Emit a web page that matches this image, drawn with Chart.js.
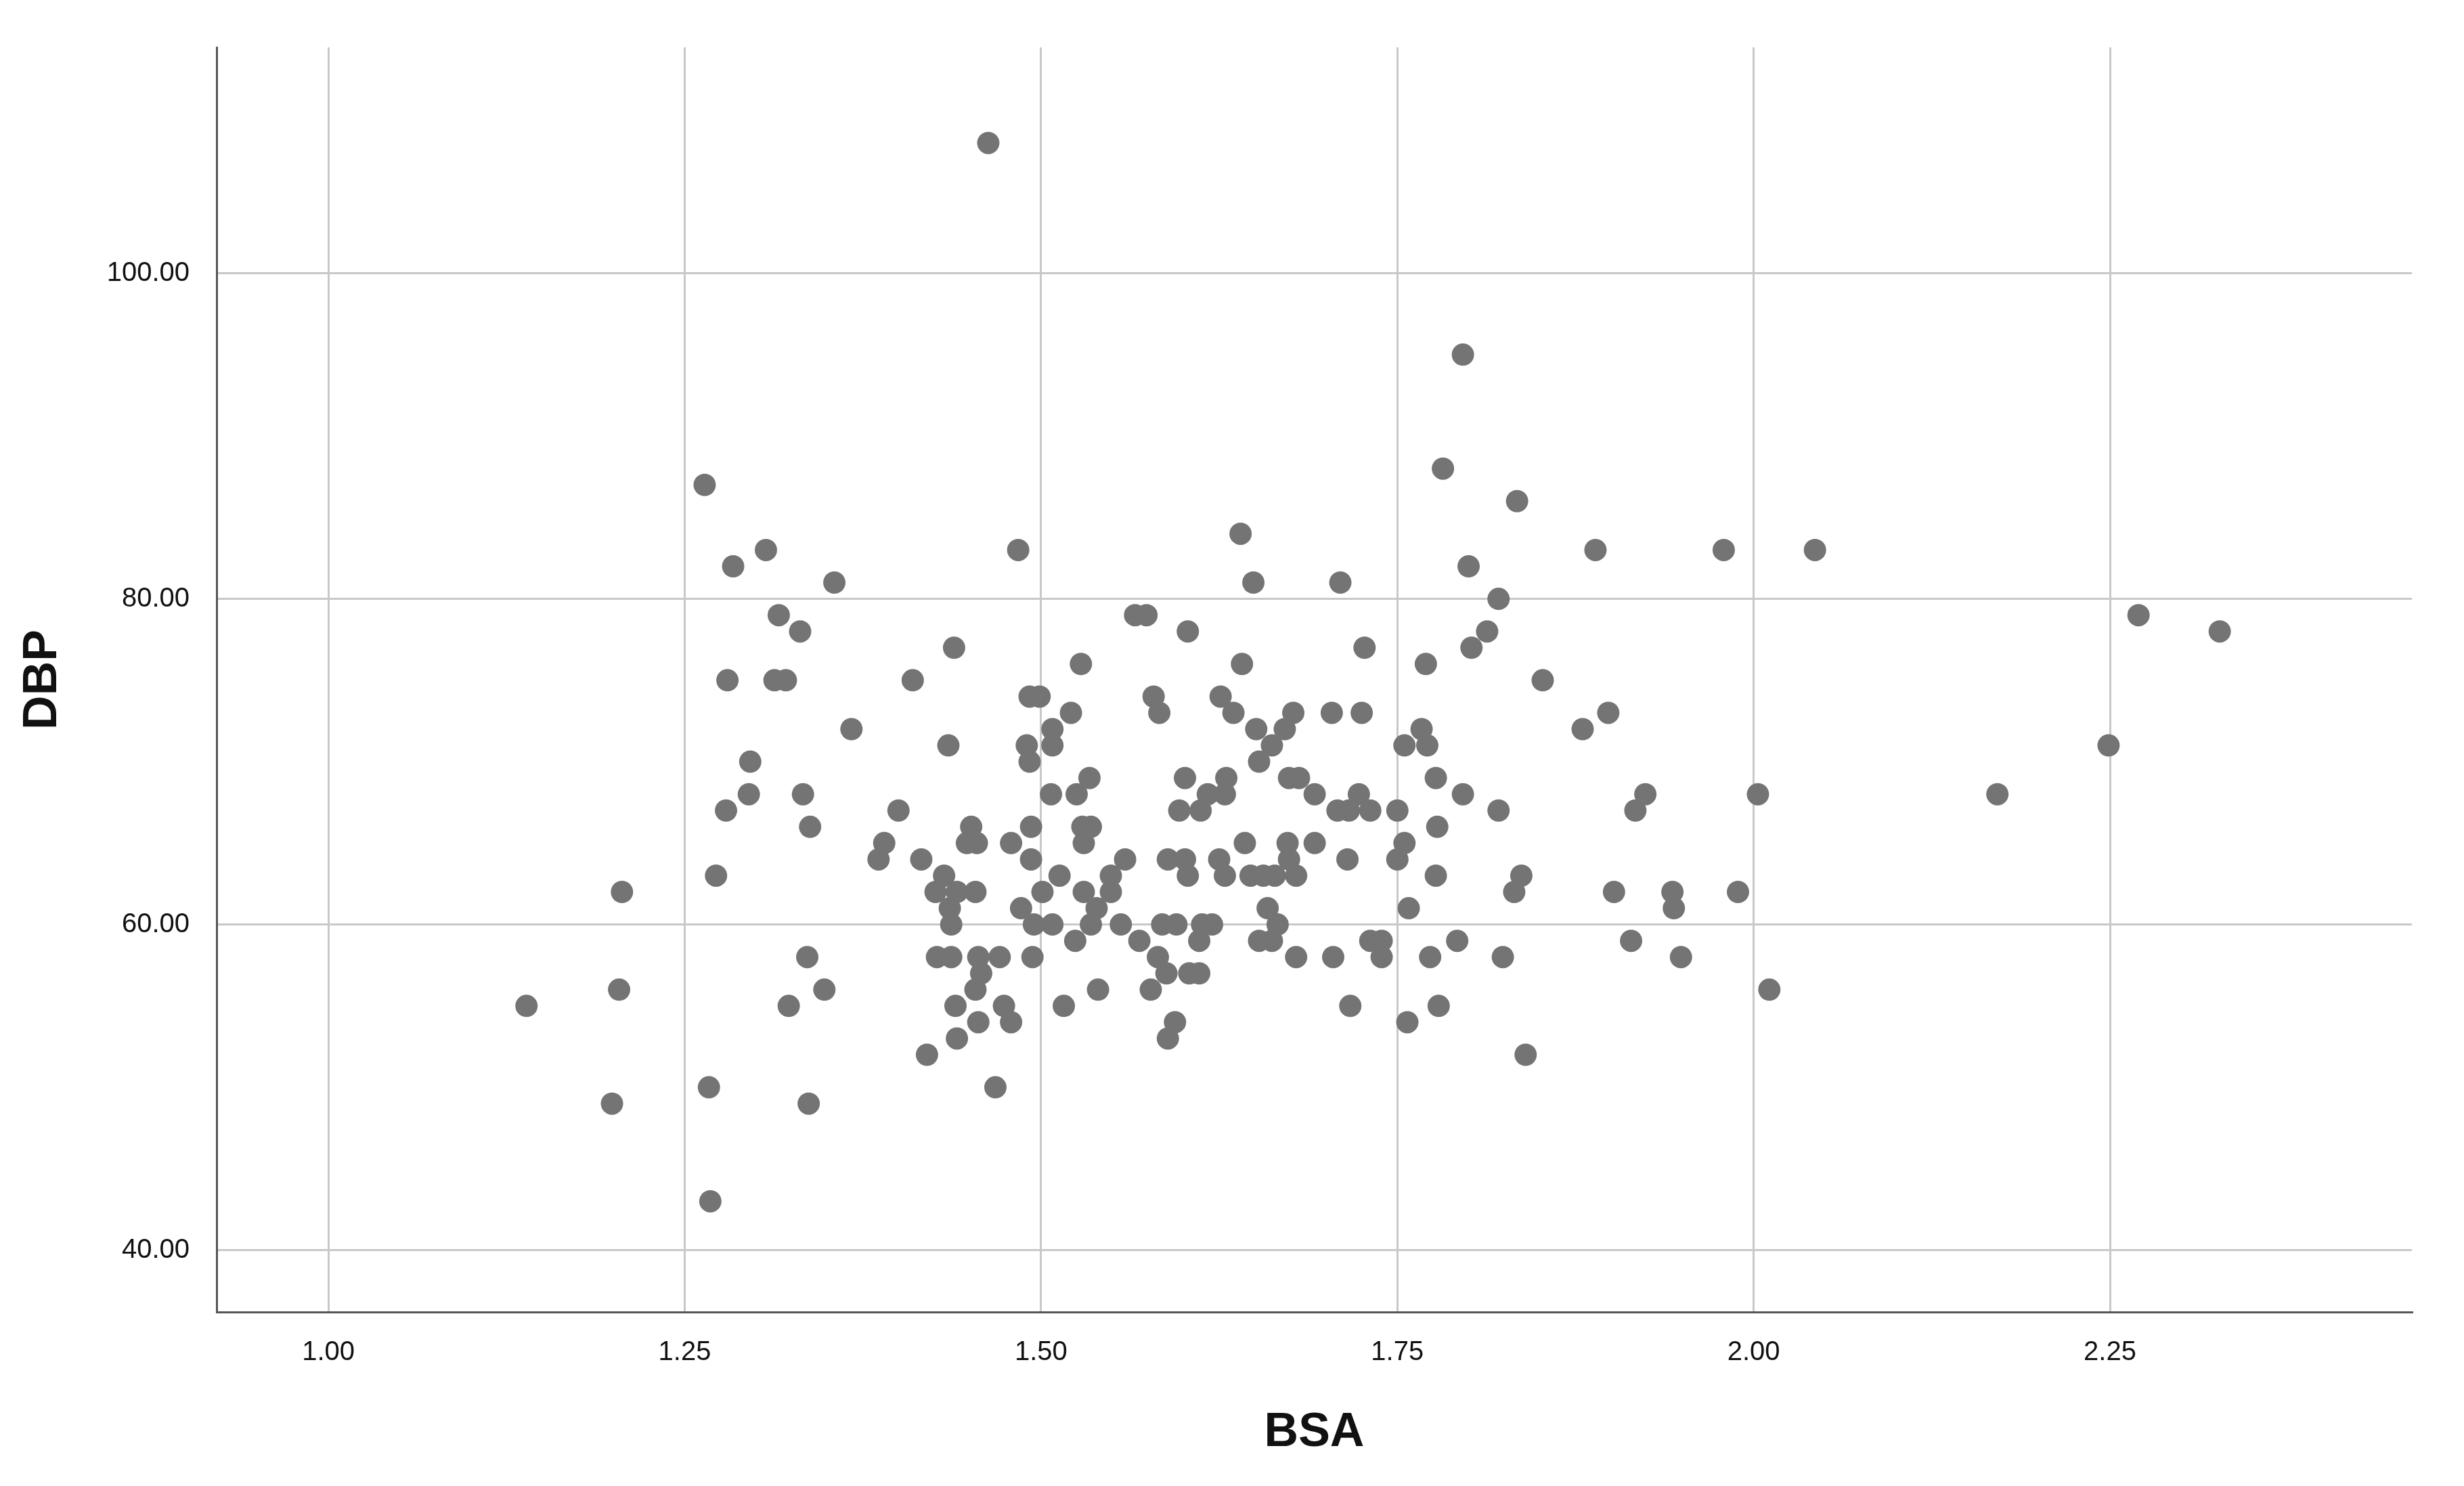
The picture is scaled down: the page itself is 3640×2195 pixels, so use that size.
<!DOCTYPE html>
<html>
<head>
<meta charset="utf-8">
<title>BSA vs DBP</title>
<script src="https://cdn.jsdelivr.net/npm/chart.js@4.4.1/dist/chart.umd.min.js"></script>
<style>
  html, body { margin: 0; padding: 0; background: #ffffff; }
  canvas { display: block; }
</style>
</head>
<body>
<canvas id="scatterChart" width="3640" height="2195"></canvas>
<script>
// one entry per case (BSA on x, DBP on y)
const bsa = [
  1.264, 1.307, 1.284, 1.355, 1.316, 1.331, 1.280, 1.313, 1.321, 1.484,
  1.566, 1.574, 1.603, 1.528, 1.439, 1.410, 1.796, 1.782, 1.834, 1.640,
  1.800, 1.649, 1.710, 1.821, 1.813, 1.727, 1.802, 1.641, 1.770, 1.852,
  1.889, 1.979, 2.043, 1.367, 1.296, 1.295, 1.333, 1.279, 1.338, 1.272,
  1.206, 1.336, 1.348, 1.204, 1.139, 1.323, 1.199, 1.267, 1.337, 1.268,
  1.492, 1.499, 1.521, 1.508, 1.508, 1.490, 1.492, 1.435, 1.579, 1.583,
  1.626, 1.635, 1.534, 1.507, 1.525, 1.601, 1.630, 1.617, 1.629, 1.597,
  1.612, 1.400, 1.451, 1.448, 1.455, 1.493, 1.479, 1.493, 1.529, 1.535,
  1.530, 1.390, 1.386, 1.416, 1.432, 1.426, 1.441, 1.454, 1.436, 1.437,
  1.501, 1.486, 1.495, 1.508, 1.513, 1.530, 1.549, 1.549, 1.559, 1.539,
  1.535, 1.524, 1.556, 1.569, 1.585, 1.595, 1.613, 1.620, 1.611, 1.589,
  1.601, 1.603, 1.625, 1.629, 1.427, 1.437, 1.456, 1.471, 1.494, 1.458,
  1.454, 1.540, 1.582, 1.588, 1.604, 1.611, 1.577, 1.440, 1.474, 1.479,
  1.456, 1.441, 1.420, 1.468, 1.516, 1.594, 1.589, 1.651, 1.677, 1.671,
  1.662, 1.653, 1.704, 1.725, 1.767, 1.755, 1.771, 1.777, 1.796, 1.821,
  1.778, 1.880, 1.674, 1.681, 1.692, 1.723, 1.708, 1.716, 1.731, 1.750,
  1.643, 1.673, 1.674, 1.679, 1.647, 1.656, 1.664, 1.692, 1.715, 1.755,
  1.750, 1.777, 1.837, 1.832, 1.659, 1.666, 1.653, 1.662, 1.679, 1.705,
  1.731, 1.739, 1.739, 1.758, 1.773, 1.792, 1.824, 1.717, 1.757, 1.779,
  1.840, 1.898, 1.924, 1.917, 2.003, 1.902, 1.943, 1.944, 1.989, 1.914,
  1.949, 2.011, 1.463, 2.171, 2.249, 2.270, 2.327
];
const dbp = [
  87, 83, 82, 81, 79, 78, 75, 75, 75, 83,
  79, 79, 78, 76, 77, 75, 95, 88, 86, 84,
  82, 81, 81, 80, 78, 77, 77, 76, 76, 75,
  83, 83, 83, 72, 70, 68, 68, 67, 66, 63,
  62, 58, 56, 56, 55, 55, 49, 50, 49, 43,
  74, 74, 73, 72, 71, 71, 70, 71, 74, 73,
  74, 73, 69, 68, 68, 69, 69, 68, 68, 67,
  67, 67, 66, 65, 65, 66, 65, 64, 66, 66,
  65, 65, 64, 64, 63, 62, 62, 62, 61, 60,
  62, 61, 60, 60, 63, 62, 63, 62, 64, 61,
  60, 59, 60, 59, 60, 60, 60, 60, 59, 64,
  64, 63, 64, 63, 58, 58, 58, 58, 58, 57,
  56, 56, 58, 57, 57, 57, 56, 55, 55, 54,
  54, 53, 52, 50, 55, 54, 53, 72, 73, 72,
  71, 70, 73, 73, 72, 71, 71, 69, 68, 67,
  66, 72, 69, 69, 68, 68, 67, 67, 67, 67,
  65, 65, 64, 63, 63, 63, 63, 65, 64, 65,
  64, 63, 63, 62, 61, 60, 59, 59, 58, 58,
  59, 59, 58, 61, 58, 59, 58, 55, 54, 55,
  52, 73, 68, 67, 68, 62, 62, 61, 62, 59,
  58, 56, 108, 68, 71, 79, 78
];

const xTicks = [1.00, 1.25, 1.50, 1.75, 2.00, 2.25];
const yTicks = [40, 60, 80, 100];

const points = bsa.map((x, i) => ({ x: x, y: dbp[i] }));

const scatterCtx = document.getElementById('scatterChart').getContext('2d');
const scatterChart = new Chart(scatterCtx, {
    type: 'scatter',
    data: {
        datasets: [{
            label: 'DBP',
            data: points,
            backgroundColor: '#747474',
            borderWidth: 0,
            pointRadius: 16.5,
            pointHoverRadius: 16.5
        }]
    },
    options: {
        responsive: false,
        animation: false,
        devicePixelRatio: 1,
        layout: {
            padding: { top: 70, right: 77, bottom: 0, left: 0 }
        },
        plugins: {
            legend: { display: false },
            tooltip: { enabled: false }
        },
        scales: {
            x: {
                type: 'linear',
                min: 0.9216,
                max: 2.4618,
                afterBuildTicks: (axis) => { axis.ticks = xTicks.map(v => ({ value: v })); },
                afterFit: (axis) => { axis.height = 257; },
                grid: { color: '#c8c8c8', lineWidth: 3, drawTicks: false },
                border: { color: '#555555', width: 3 },
                ticks: {
                    padding: 36,
                    autoSkip: false,
                    maxRotation: 0,
                    color: '#111111',
                    font: { family: 'Liberation Sans', size: 40 },
                    callback: (v) => Number(v).toFixed(2)
                },
                title: {
                    display: true,
                    text: 'BSA',
                    color: '#111111',
                    font: { family: 'Liberation Sans', size: 70, weight: 'bold' },
                    padding: { top: 0, bottom: 36 }
                }
            },
            y: {
                type: 'linear',
                min: 36.2,
                max: 113.87,
                afterBuildTicks: (axis) => { axis.ticks = yTicks.map(v => ({ value: v })); },
                afterFit: (axis) => { axis.width = 320; },
                grid: { color: '#c8c8c8', lineWidth: 3, drawTicks: false },
                border: { color: '#555555', width: 3 },
                ticks: {
                    padding: 40,
                    autoSkip: false,
                    color: '#111111',
                    font: { family: 'Liberation Sans', size: 40 },
                    callback: (v) => Number(v).toFixed(2)
                },
                title: {
                    display: true,
                    text: 'DBP',
                    color: '#111111',
                    font: { family: 'Liberation Sans', size: 70, weight: 'bold' },
                    padding: { top: 22, bottom: 0 }
                }
            }
        }
    }
});
</script>
</body>
</html>
